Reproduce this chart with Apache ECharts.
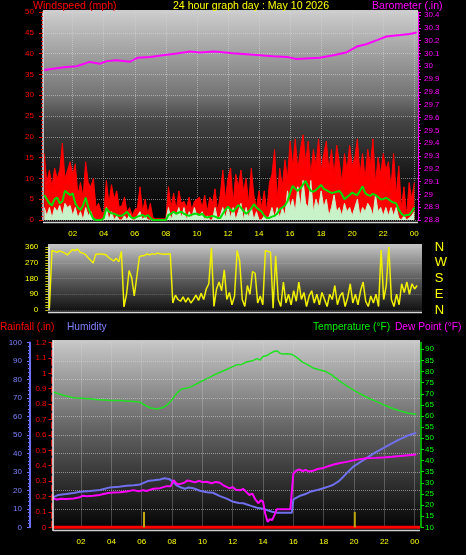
<!DOCTYPE html>
<html><head><meta charset="utf-8">
<script src="https://cdn.jsdelivr.net/npm/echarts@6/dist/echarts.min.js"></script>
<style>html,body{margin:0;padding:0;background:#000;}#c{width:466px;height:555px;}</style>
</head><body><div id="c"></div>
<script>
// ---------- DATA ----------
const titleText = '24 hour graph day : May 10 2026';
const hourTicks = [2,4,6,8,10,12,14,16,18,20,22,24];
const windStart = 0.17, windStep = 1/6; // 10-minute samples (hours)
const gust = [16,9,12,8,12.5,10, 12,18.5,10,12,14,11, 13.5,6,9,5.5,14,9, 8,10,3,4,2,1.5,
  9.5,4,8.5,5,7,3, 3.5,5.5,2,3,1,2.5, 3,8,2,5,1.5,4, 0.5,0.3,0.3,0.3,0.3,0.3,
  8,3,6.5,2.5,7,4, 4.5,3,5.5,2.5,4.5,5, 5.5,3,6,2,5.5,4, 7.5,2,6,12,5,10,
  12.5,4,11,8,12,7, 10,4,12.5,6,3,7, 3,7,2,9,11,17, 5,12.5,8,14.5,10,19,
  13,19.5,12,17,20.5,14, 19,11,17,13,19.5,12, 16,19,12,17,11,18, 14,9,16,12,18,13,
  15,19.5,11,16,10,17, 13,19.5,9,15,11,16, 12,14,8,16,6,13, 3,8,1,9,5,9];
const speed = [3,1,3,0.5,3,2, 3.5,1,4,3,3.5,1, 3,0.5,2,0,3,1, 2,0,0,0,0,0,
  3,0,2,0,1,0, 0,1,0,1.5,0,0, 1,2,0,1,0,0, 0,0,0,0,0,0,
  3,0,2,1,3,0.5, 3,0,2,0.5,3,1, 1,2,0,1,0,0, 3,0,1,3,0.5,3,
  0.5,3,0,2,4,0, 3,0.5,3,0,2,0, 0,1,0,1,3,0.5, 3,0.5,3,1,7,3,
  5,2,8,3,9.5,4, 3,9.5,2,5,3,7, 3,5,1,3,6,2, 3,1,4,2,3,1,
  3,5,1,3,2,4, 3,1,6,2,3,1, 3,1,3,1,3,0.5, 0,1,0,0.5,1,2];
const avgSpeed = [6,5,4,3.5,5,5.4, 4,4.5,7,6.5,6,6.4, 4,3,2.4,3.5,5.4,3, 1.5,0.3,0,0,0,0.5,
  2.8,2,1.6,1.5,1.2,1, 1,1.5,2,1,0.5,0.5, 0.8,1,1.2,0.8,1.2,0.5, 0,0,0,0,0,0,
  1.2,1.5,2,1.5,1.8,2, 1.5,1.2,1,1.3,1.5,1.5, 1.2,1.5,0.8,0.6,0.8,1, 0.8,0.5,0.5,1.5,2.5,3.2,
  2.5,2,2.8,3.6,3,2.2, 1.5,2,2.8,3.8,3,2.5, 2,1,0.5,0.5,0.8,1, 1.5,2.6,3,3.5,4.5,6.5,
  8.2,7.5,7,7.6,8.5,9.4, 8,7,6.8,7.2,7.8,8.4, 7.5,7.2,6.8,6.5,6.6,6.8, 7,6.2,5,5.5,6,6.6,
  6.2,6,7,8.1,6.5,6, 5.8,6.3,6,5.5,5,5, 5.3,5,4.5,4.2,4,2.5, 1.5,1,1.2,1.2,2,3];
const baroHours = [0.17,0.97,1.6,2.26,3.1,3.76,4.2,4.8,5.7,6.2,7.0,7.8,8.7,9.56,10.2,11.06,11.5,12.3,13.2,14.06,14.9,15.8,16.4,17.3,17.9,18.8,19.6,20.3,20.9,21.6,22.2,23.1,23.7,24.15];
const baroValues = [29.97,29.985,29.995,30.0,30.034,30.02,30.04,30.047,30.036,30.067,30.073,30.086,30.099,30.115,30.107,30.115,30.112,30.102,30.094,30.086,30.078,30.073,30.057,30.063,30.067,30.086,30.107,30.154,30.172,30.204,30.232,30.243,30.251,30.264];
const dirStart = 0.17, dirStep = 1/6;
const direction = [10,340,335,330,338,332, 325,315,330,345,340,348, 330,325,318,300,285,268, 318,320,320,318,316,300,
  290,280,295,275,335,18, 90,225,185,80,190,305, 310,312,320,315,322,318, 325,322,320,318,320,322,
  40,85,60,50,75,45, 70,40,60,85,55,95, 60,120,150,355,20,120, 160,110,230,60,100,30,
  80,340,280,60,20,140, 90,220,210,40,80,30, 340,335,330,10,310,60, 20,160,40,90,30,110,
  50,160,60,100,20,80, 110,40,90,30,100,60, 20,90,60,140,30,80, 100,20,70,150,40,90,
  30,110,160,50,20,80, 40,90,20,343,60,140, 360,60,20,90,30,150, 100,160,90,150,120,140];
const dirLetters = {0:'N', 90:'E', 180:'S', 270:'W', 360:'N'};
const tempHours = [0.15,0.5,1.0,1.5,2.0,2.5,3.0,3.5,4.0,4.5,5.0,5.5,5.9,6.3,6.6,7.0,7.4,7.65,7.9,8.1,8.35,8.6,9.0,9.2,9.5,9.85,10.3,10.7,11.2,11.6,12.0,12.3,12.6,12.9,13.3,13.6,13.8,14.0,14.25,14.5,14.75,14.95,15.1,15.3,15.6,15.9,16.2,16.6,16.9,17.3,17.7,18.15,18.5,18.8,19.2,19.6,19.95,20.4,21.0,21.5,22.1,22.6,23.2,23.6,24.1];
const tempValues = [70.8,70,69,68.2,68,67.8,67.4,67.2,67,67,66.8,66.5,66.2,64.5,63.6,63.2,63.8,64.9,66.5,68.3,70.5,72,72.6,73,74,75.3,76.8,78.2,79.8,80.9,82.2,83.1,83.2,84.3,84.8,85.8,85.2,86.8,87.2,88.3,89.1,89.2,88.2,87.9,88,87.7,86.5,84.2,83.2,81.6,80.8,80,78.6,77,75,73.2,71.8,70,67.9,66.5,64.6,63.3,62,61.3,60.8];
const humHours = [0.15,0.5,1.0,1.5,1.95,2.6,3.25,3.9,4.5,5.0,5.5,5.9,6.4,6.8,7.2,7.5,7.8,8.0,8.3,8.6,8.85,9.1,9.4,9.84,10.3,10.7,11.16,11.6,12.04,12.4,12.7,13.2,13.6,14.0,14.24,14.6,14.9,15.4,15.9,16.0,16.4,16.8,17.1,17.5,17.97,18.3,18.6,19.0,19.3,19.6,19.95,20.4,20.8,21.3,21.9,22.4,23.0,23.5,24.1];
const humValues = [16.2,17.5,18,18.6,19.2,19.6,20.2,21.6,22,22.5,22.8,23.2,25,25.4,25.9,26.5,26.2,25,22.7,21.5,20.9,21.5,21.1,19.8,19,18.7,16.9,15.5,13.8,13.2,13,11.6,10.6,10,9.4,8.4,7.9,7.9,7.9,15.1,16.9,18,19.2,20,21.1,22,22.9,25,27.4,30,32.8,35.2,37.3,40,42.7,45,47.6,49.5,51.1];
const dewHours = [0.15,0.4,0.7,1.05,1.5,1.93,2.1,2.4,2.8,3.2,3.7,4.1,4.57,5.0,5.45,5.8,6.1,6.3,6.77,7.2,7.65,7.9,8.1,8.3,8.5,8.8,9.0,9.2,9.5,9.8,10.0,10.3,10.6,10.9,11.16,11.4,11.6,11.8,12.0,12.2,12.5,12.7,12.9,13.1,13.3,13.5,13.7,13.85,14.0,14.15,14.3,14.45,14.6,14.75,14.9,15.3,15.8,15.9,16.0,16.2,16.4,16.6,16.8,17.0,17.3,17.6,17.9,18.2,18.6,19.0,19.5,20.1,20.8,21.4,21.9,22.5,23.0,23.6,24.1];
const dewValues = [23,22.5,22.8,22.7,22.9,23.5,24.2,24,24.2,24.5,25.3,25.6,25.8,26.1,26.7,26.2,26.7,26.3,27.3,27.6,28.5,28.4,31.2,29.6,29.4,30,31,30.8,30.2,30.9,30.3,30.5,29.8,30.4,30,28.8,28.2,27.5,28.1,26.9,26.7,27.2,25.8,24.5,25.1,22.4,20.8,22.2,21.5,16,12.5,13.6,13.3,15.5,18.1,18.1,18.1,26,34.2,35.5,36,35.2,35.8,35.1,35.4,36.2,36.5,37.2,38.1,38.8,39.4,40.3,41,41.2,41.4,41.7,42,42.4,42.7];
const rainHours = [0.15,6,12,18,24.35];
const rainValues = [0,0,0,0,0];
const sunEventHours = [6.15, 20.05];
const sunEventHeight = [0.1, 0.1];

// ---------- CHART ----------
const FONT = '"Liberation Sans", Arial, sans-serif';
const TICK_FS = 8;
const zip = (xs, ys) => xs.map((x, i) => [x, ys[i]]);
const series10 = (start, step, vals) => vals.map((v, i) => [start + i * step, v]);
const hh = v => { const h = Math.round(v) % 24; return (h < 10 ? '0' : '') + h; };
const gridLine = {show: true, lineStyle: {color: 'rgba(215,215,215,0.55)', type: 'dotted', width: 1}};
const vgrad = (stops) => ({type: 'linear', x: 0, y: 0, x2: 0, y2: 1, colorStops: stops});

const chart = echarts.init(document.getElementById('c'), null, {renderer: 'canvas'});

function xAxisFor(gridIndex, min, max, showLabels) {
  return {
    type: 'value', gridIndex, min, max,
    axisLine: {show: false}, axisTick: {show: false, customValues: hourTicks},
    axisLabel: {show: showLabels, customValues: hourTicks, formatter: hh, color: '#ffff00', fontSize: TICK_FS, fontFamily: FONT, margin: 10},
    splitLine: showLabels ? gridLine : {show: false}
  };
}

const option = {
  backgroundColor: '#000',
  animation: false,
  grid: [
    {left: 43, top: 12, width: 375, height: 208},
    {left: 48.3, top: 247, width: 373.4, height: 63},
    {left: 53, top: 342.5, width: 367, height: 184.8}
  ],
  xAxis: [
    xAxisFor(0, 0.09, 24.24, true),
    xAxisFor(1, 0.1, 24.3, false),
    xAxisFor(2, 0.15, 24.35, true)
  ],
  yAxis: [
    {type: 'value', gridIndex: 0, min: 0, max: 50, interval: 5, position: 'left',
     axisLine: {show: true, lineStyle: {color: '#e0e0e0', width: 1.5}},
     axisTick: {show: true, length: 4, lineStyle: {color: '#ff0000'}},
     minorTick: {show: true, splitNumber: 5, length: 2, lineStyle: {color: '#ff0000'}},
     axisLabel: {color: '#ff0000', fontSize: TICK_FS, fontFamily: FONT, margin: 9},
     splitLine: gridLine},
    {type: 'value', gridIndex: 0, min: 28.8, max: 30.4234, interval: 0.1, position: 'right',
     axisLine: {show: true, lineStyle: {color: '#ff00ff', width: 1}},
     axisTick: {show: true, length: 3, lineStyle: {color: '#ff00ff'}},
     minorTick: {show: true, splitNumber: 4, length: 2, lineStyle: {color: '#ff00ff'}},
     axisLabel: {color: '#ff00ff', fontSize: TICK_FS, fontFamily: FONT, margin: 6, showMaxLabel: false,
       formatter: v => String(Math.round(v * 10) / 10)},
     splitLine: {show: false}},
    {type: 'value', gridIndex: 1, min: 0, max: 360, interval: 90, position: 'left',
     axisLine: {show: true, lineStyle: {color: '#e8e8e8', width: 1.5}},
     axisTick: {show: true, length: 3, lineStyle: {color: '#c8c800'}},
     minorTick: {show: true, splitNumber: 6, length: 3, lineStyle: {color: '#c8c800'}},
     axisLabel: {color: '#ffff00', fontSize: TICK_FS, fontFamily: FONT, margin: 10},
     splitLine: {show: true, lineStyle: {color: 'rgba(215,215,215,0.3)', type: 'dotted'}}},
    {type: 'value', gridIndex: 1, min: 0, max: 360, interval: 90, position: 'right',
     axisLine: {show: false}, axisTick: {show: false},
     axisLabel: {color: '#ffff00', fontSize: 13, fontFamily: FONT, margin: 13, formatter: v => dirLetters[v] || ''},
     splitLine: {show: false}},
    {type: 'value', gridIndex: 2, min: 0, max: 100, interval: 10, position: 'left', offset: 23,
     axisLine: {show: true, lineStyle: {color: '#7070ff', width: 2}},
     axisTick: {show: true, length: 3, lineStyle: {color: '#7070ff'}},
     minorTick: {show: true, splitNumber: 5, length: 2, lineStyle: {color: '#7070ff'}},
     axisLabel: {color: '#8080ff', fontSize: TICK_FS, fontFamily: FONT, margin: 8},
     splitLine: gridLine},
    {type: 'value', gridIndex: 2, min: 0, max: 1.2, interval: 0.1, position: 'left', offset: 1.5,
     axisLine: {show: true, lineStyle: {color: '#ff2020', width: 1.5, type: 'dashed'}},
     axisTick: {show: true, length: 3, lineStyle: {color: '#ff0000'}},
     axisLabel: {color: '#ff0000', fontSize: TICK_FS, fontFamily: FONT, margin: 5,
       formatter: v => String(Math.round(v * 10) / 10)},
     splitLine: {show: false}},
    {type: 'value', gridIndex: 2, min: 10, max: 93.05, interval: 5, position: 'right', offset: 1,
     axisLine: {show: true, lineStyle: {color: '#00dd00', width: 1.5}},
     axisTick: {show: true, length: 3, lineStyle: {color: '#00dd00'}},
     axisLabel: {color: '#00ff00', fontSize: TICK_FS, fontFamily: FONT, margin: 4, showMaxLabel: false},
     splitLine: {show: false}}
  ],
  graphic: [
    {type: 'rect', z: -10, shape: {x: 43, y: 10, width: 375, height: 213},
     style: {fill: vgrad([{offset: 0, color: '#cecece'}, {offset: 0.4, color: '#747474'}, {offset: 0.52, color: '#454545'}, {offset: 0.78, color: '#161616'}, {offset: 1, color: '#000'}])}},
    {type: 'rect', z: -10, shape: {x: 48, y: 244, width: 374, height: 69},
     style: {fill: vgrad([{offset: 0, color: '#c6c6c6'}, {offset: 0.5, color: '#5e5e5e'}, {offset: 1, color: '#0c0c0c'}])}},
    {type: 'rect', z: -10, shape: {x: 53, y: 340, width: 367, height: 192},
     style: {fill: vgrad([{offset: 0, color: '#c8c8c8'}, {offset: 0.45, color: '#666'}, {offset: 1, color: '#000'}])}},
    {type: 'line', z: 5, shape: {x1: 43, y1: 222.5, x2: 418, y2: 222.5}, style: {stroke: '#d8d8d8', lineWidth: 1.5}},
    {type: 'line', z: 5, shape: {x1: 48, y1: 312.5, x2: 422, y2: 312.5}, style: {stroke: '#d8d8d8', lineWidth: 1.5}},
    {type: 'line', z: 5, shape: {x1: 53, y1: 340, x2: 53, y2: 531}, style: {stroke: '#e8e8e8', lineWidth: 1.5}},
    {type: 'line', z: 5, shape: {x1: 53, y1: 530.5, x2: 420, y2: 530.5}, style: {stroke: '#d0d0d0', lineWidth: 1.5}},
    {type: 'text', x: 33, y: 6, style: {text: 'Windspeed (mph)', fill: '#ff0000', font: '10.6px ' + FONT, verticalAlign: 'middle'}},
    {type: 'text', x: 251, y: 6, style: {text: titleText, fill: '#ffff00', font: '10.6px ' + FONT, align: 'center', verticalAlign: 'middle'}},
    {type: 'text', x: 372, y: 6, style: {text: 'Barometer (.in)', fill: '#ff00ff', font: '10.6px ' + FONT, verticalAlign: 'middle'}},
    {type: 'text', x: 0, y: 327, style: {text: 'Rainfall (.in)', fill: '#ff0000', font: '10.2px ' + FONT, verticalAlign: 'middle'}},
    {type: 'text', x: 67, y: 327, style: {text: 'Humidity', fill: '#8080ff', font: '10.2px ' + FONT, verticalAlign: 'middle'}},
    {type: 'text', x: 313, y: 327, style: {text: 'Temperature (°F)', fill: '#00ee00', font: '10.2px ' + FONT, verticalAlign: 'middle'}},
    {type: 'text', x: 395, y: 327, style: {text: 'Dew Point (°F)', fill: '#ff00ff', font: '10.2px ' + FONT, verticalAlign: 'middle'}}
  ],
  series: [
    {name: 'Gust', type: 'line', xAxisIndex: 0, yAxisIndex: 0, showSymbol: false, z: 2,
     data: series10(windStart, windStep, gust),
     lineStyle: {color: '#ff0000', width: 1}, areaStyle: {color: '#ff0000', opacity: 1}, itemStyle: {color: '#ff0000'}},
    {name: 'Speed', type: 'line', xAxisIndex: 0, yAxisIndex: 0, showSymbol: false, z: 3,
     data: series10(windStart, windStep, speed),
     lineStyle: {color: '#c8f2c8', width: 1}, areaStyle: {color: '#c8f2c8', opacity: 1}, itemStyle: {color: '#c8f2c8'}},
    {name: 'Average', type: 'line', xAxisIndex: 0, yAxisIndex: 0, showSymbol: false, z: 4,
     data: series10(windStart, windStep, avgSpeed),
     lineStyle: {color: '#00dd00', width: 2}, itemStyle: {color: '#00dd00'}},
    {name: 'Barometer', type: 'line', xAxisIndex: 0, yAxisIndex: 1, showSymbol: false, z: 4,
     data: zip(baroHours, baroValues), lineStyle: {color: '#ff00ff', width: 2}, itemStyle: {color: '#ff00ff'}},
    {name: 'Direction', type: 'line', xAxisIndex: 1, yAxisIndex: 2, showSymbol: false, z: 4,
     data: series10(dirStart, dirStep, direction), lineStyle: {color: '#f0f000', width: 1.5}, itemStyle: {color: '#f0f000'}},
    {name: 'Rainfall', type: 'line', xAxisIndex: 2, yAxisIndex: 5, showSymbol: false, z: 3, clip: false,
     data: zip(rainHours, rainValues), lineStyle: {color: '#ff0000', width: 3}, itemStyle: {color: '#ff0000'}},
    {name: 'Sun', type: 'bar', xAxisIndex: 2, yAxisIndex: 5, barWidth: 2, z: 4,
     data: zip(sunEventHours, sunEventHeight), itemStyle: {color: '#c0aa10'}},
    {name: 'Humidity', type: 'line', xAxisIndex: 2, yAxisIndex: 4, showSymbol: false, z: 4,
     data: zip(humHours, humValues), lineStyle: {color: '#7070ee', width: 2}, itemStyle: {color: '#7070ee'}},
    {name: 'Dew Point', type: 'line', xAxisIndex: 2, yAxisIndex: 6, showSymbol: false, z: 4,
     data: zip(dewHours, dewValues), lineStyle: {color: '#ff00ff', width: 2}, itemStyle: {color: '#ff00ff'}},
    {name: 'Temperature', type: 'line', xAxisIndex: 2, yAxisIndex: 6, showSymbol: false, z: 4,
     data: zip(tempHours, tempValues), lineStyle: {color: '#22e022', width: 1.5}, itemStyle: {color: '#22e022'}}
  ]
};
chart.setOption(option);
</script>
</body></html>
